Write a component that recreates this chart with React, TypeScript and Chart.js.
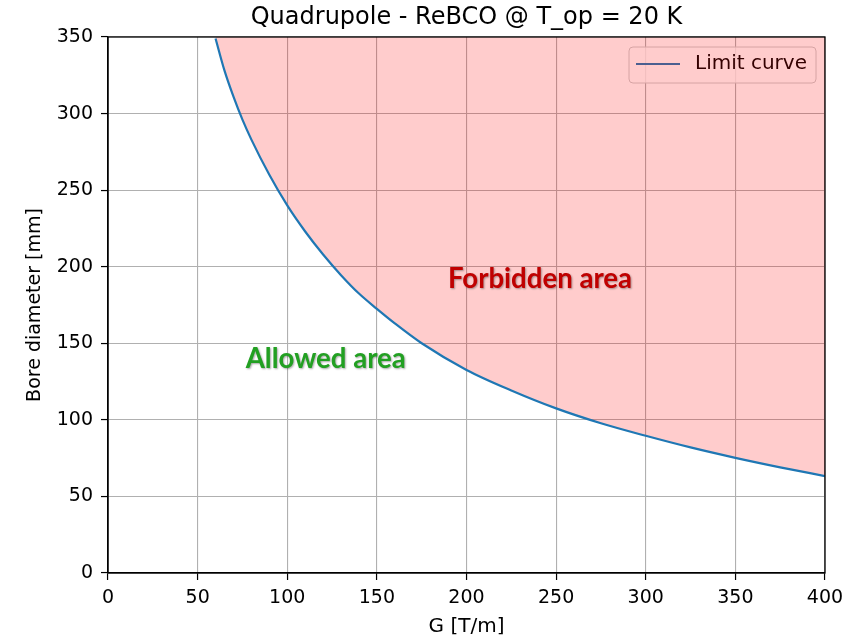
import { useEffect, useRef } from 'react';
import { Chart, registerables } from 'chart.js';

Chart.register(...registerables);

// ---- Data ----
const gradientG = [60, 65, 70, 75, 80, 90, 100, 110, 120, 130, 140, 150, 160, 175, 200, 225, 250, 275, 300, 325, 350, 375, 400];
const boreDiameter = [349, 328, 311, 296, 283, 260, 240, 223, 208, 194.5, 182.5, 172.5, 163, 150, 132.6, 119.2, 107.5, 97.8, 89.6, 82, 75.2, 69, 63.3];

const chartTitle = 'Quadrupole - ReBCO @ T_op = 20 K';
const xTitle = 'G [T/m]';
const yTitle = 'Bore diameter [mm]';
const seriesLabel = 'Limit curve';

const xRange = [0, 400];
const yRange = [0, 350];
const tickStep = 50;

const areaLabels = ['Forbidden area', 'Allowed area'];
const areaLabelG = [241, 121.5];
const areaLabelD = [186, 134];
const areaLabelColors = ['#c00000', '#22a022'];

const FONT = "'DejaVu Sans', sans-serif";

const legendPlugin = {
  id: 'mplLegend',
  beforeDatasetsDraw(chart: any) {
    const { ctx, chartArea } = chart;
    const w = 187;
    const h = 36;
    const x = chartArea.right - 9 - w;
    const y = chartArea.top + 10;
    ctx.save();
    ctx.beginPath();
    ctx.roundRect(x, y, w, h, 4);
    ctx.fillStyle = 'rgba(255,255,255,0.8)';
    ctx.fill();
    ctx.strokeStyle = '#cccccc';
    ctx.lineWidth = 1;
    ctx.stroke();
    ctx.beginPath();
    ctx.moveTo(x + 7, y + 17);
    ctx.lineTo(x + 51, y + 17);
    ctx.strokeStyle = '#1f77b4';
    ctx.lineWidth = 2.2;
    ctx.stroke();
    ctx.fillStyle = '#000';
    ctx.font = `20px ${FONT}`;
    ctx.textBaseline = 'middle';
    ctx.textAlign = 'left';
    ctx.fillText(seriesLabel, x + 66, y + 17);
    ctx.restore();
  },
};

const overlayPlugin = {
  id: 'overlay',
  afterDatasetsDraw(chart: any) {
    const { ctx, chartArea, scales } = chart;
    ctx.save();
    // frame (spines)
    ctx.strokeStyle = '#000';
    ctx.lineWidth = 1.3;
    ctx.strokeRect(chartArea.left, chartArea.top, chartArea.right - chartArea.left, chartArea.bottom - chartArea.top);
    // area annotations
    ctx.font = `bold 27.6px Lato, sans-serif`;
    ctx.textAlign = 'center';
    ctx.textBaseline = 'alphabetic';
    ctx.shadowColor = 'rgba(0,0,0,0.35)';
    ctx.shadowOffsetX = 1;
    ctx.shadowOffsetY = 1;
    ctx.shadowBlur = 2;
    areaLabels.forEach((t, i) => {
      ctx.fillStyle = areaLabelColors[i];
      ctx.fillText(t, scales.x.getPixelForValue(areaLabelG[i]), scales.y.getPixelForValue(areaLabelD[i]));
    });
    ctx.restore();
  },
};

export default function App() {
  const ref = useRef<HTMLCanvasElement | null>(null);

  useEffect(() => {
    if (!ref.current) return;
    const chart = new Chart(ref.current, {
      type: 'line',
      data: {
        datasets: [
          {
            label: seriesLabel,
            data: gradientG.map((g, i) => ({ x: g, y: boreDiameter[i] })),
            borderColor: '#1f77b4',
            borderWidth: 2.2,
            backgroundColor: 'rgba(255,0,0,0.2)',
            fill: 'end',
            pointRadius: 0,
            cubicInterpolationMode: 'monotone',
          },
        ],
      },
      options: {
        animation: false,
        responsive: false,
        devicePixelRatio: 1,
        layout: { padding: 0 },
        plugins: {
          legend: { display: false },
          tooltip: { enabled: false },
          title: {
            display: true,
            fullSize: false,
            text: chartTitle,
            color: '#000',
            font: { family: FONT, size: 24, weight: 'normal' },
            padding: { top: 3, bottom: 5.2 },
          },
        },
        scales: {
          x: {
            type: 'linear',
            min: xRange[0],
            max: xRange[1],
            ticks: { stepSize: tickStep, color: '#000', font: { family: FONT, size: 19 }, padding: 7, maxRotation: 0 },
            grid: { color: '#b0b0b0', lineWidth: 1.1, tickColor: '#000', tickLength: 7, tickWidth: 1.2 },
            border: { color: '#000', width: 1.3 },
            title: { display: true, text: xTitle, color: '#000', font: { family: FONT, size: 20 }, padding: { top: 0, bottom: -3 } },
            afterFit(scale: any) {
              scale.height = 63;
              scale.paddingLeft = 0;
              scale.paddingRight = 18;
            },
          },
          y: {
            type: 'linear',
            min: yRange[0],
            max: yRange[1],
            ticks: { stepSize: tickStep, color: '#000', font: { family: FONT, size: 19 }, padding: 8 },
            grid: { color: '#b0b0b0', lineWidth: 1.1, tickColor: '#000', tickLength: 7, tickWidth: 1.2 },
            border: { color: '#000', width: 1.3 },
            title: { display: true, text: yTitle, color: '#000', font: { family: FONT, size: 19 }, padding: { top: 24, bottom: 0 } },
            afterFit(scale: any) {
              scale.width = 108;
              scale.paddingTop = 0;
              scale.paddingBottom = 0;
            },
          },
        },
      },
      plugins: [legendPlugin, overlayPlugin],
    } as any);
    return () => chart.destroy();
  }, []);

  return (
    <div style={{ position: 'fixed', left: 0, top: 0, width: 843, height: 636, background: '#fff' }}>
      <canvas ref={ref} width={843} height={636} />
    </div>
  );
}
